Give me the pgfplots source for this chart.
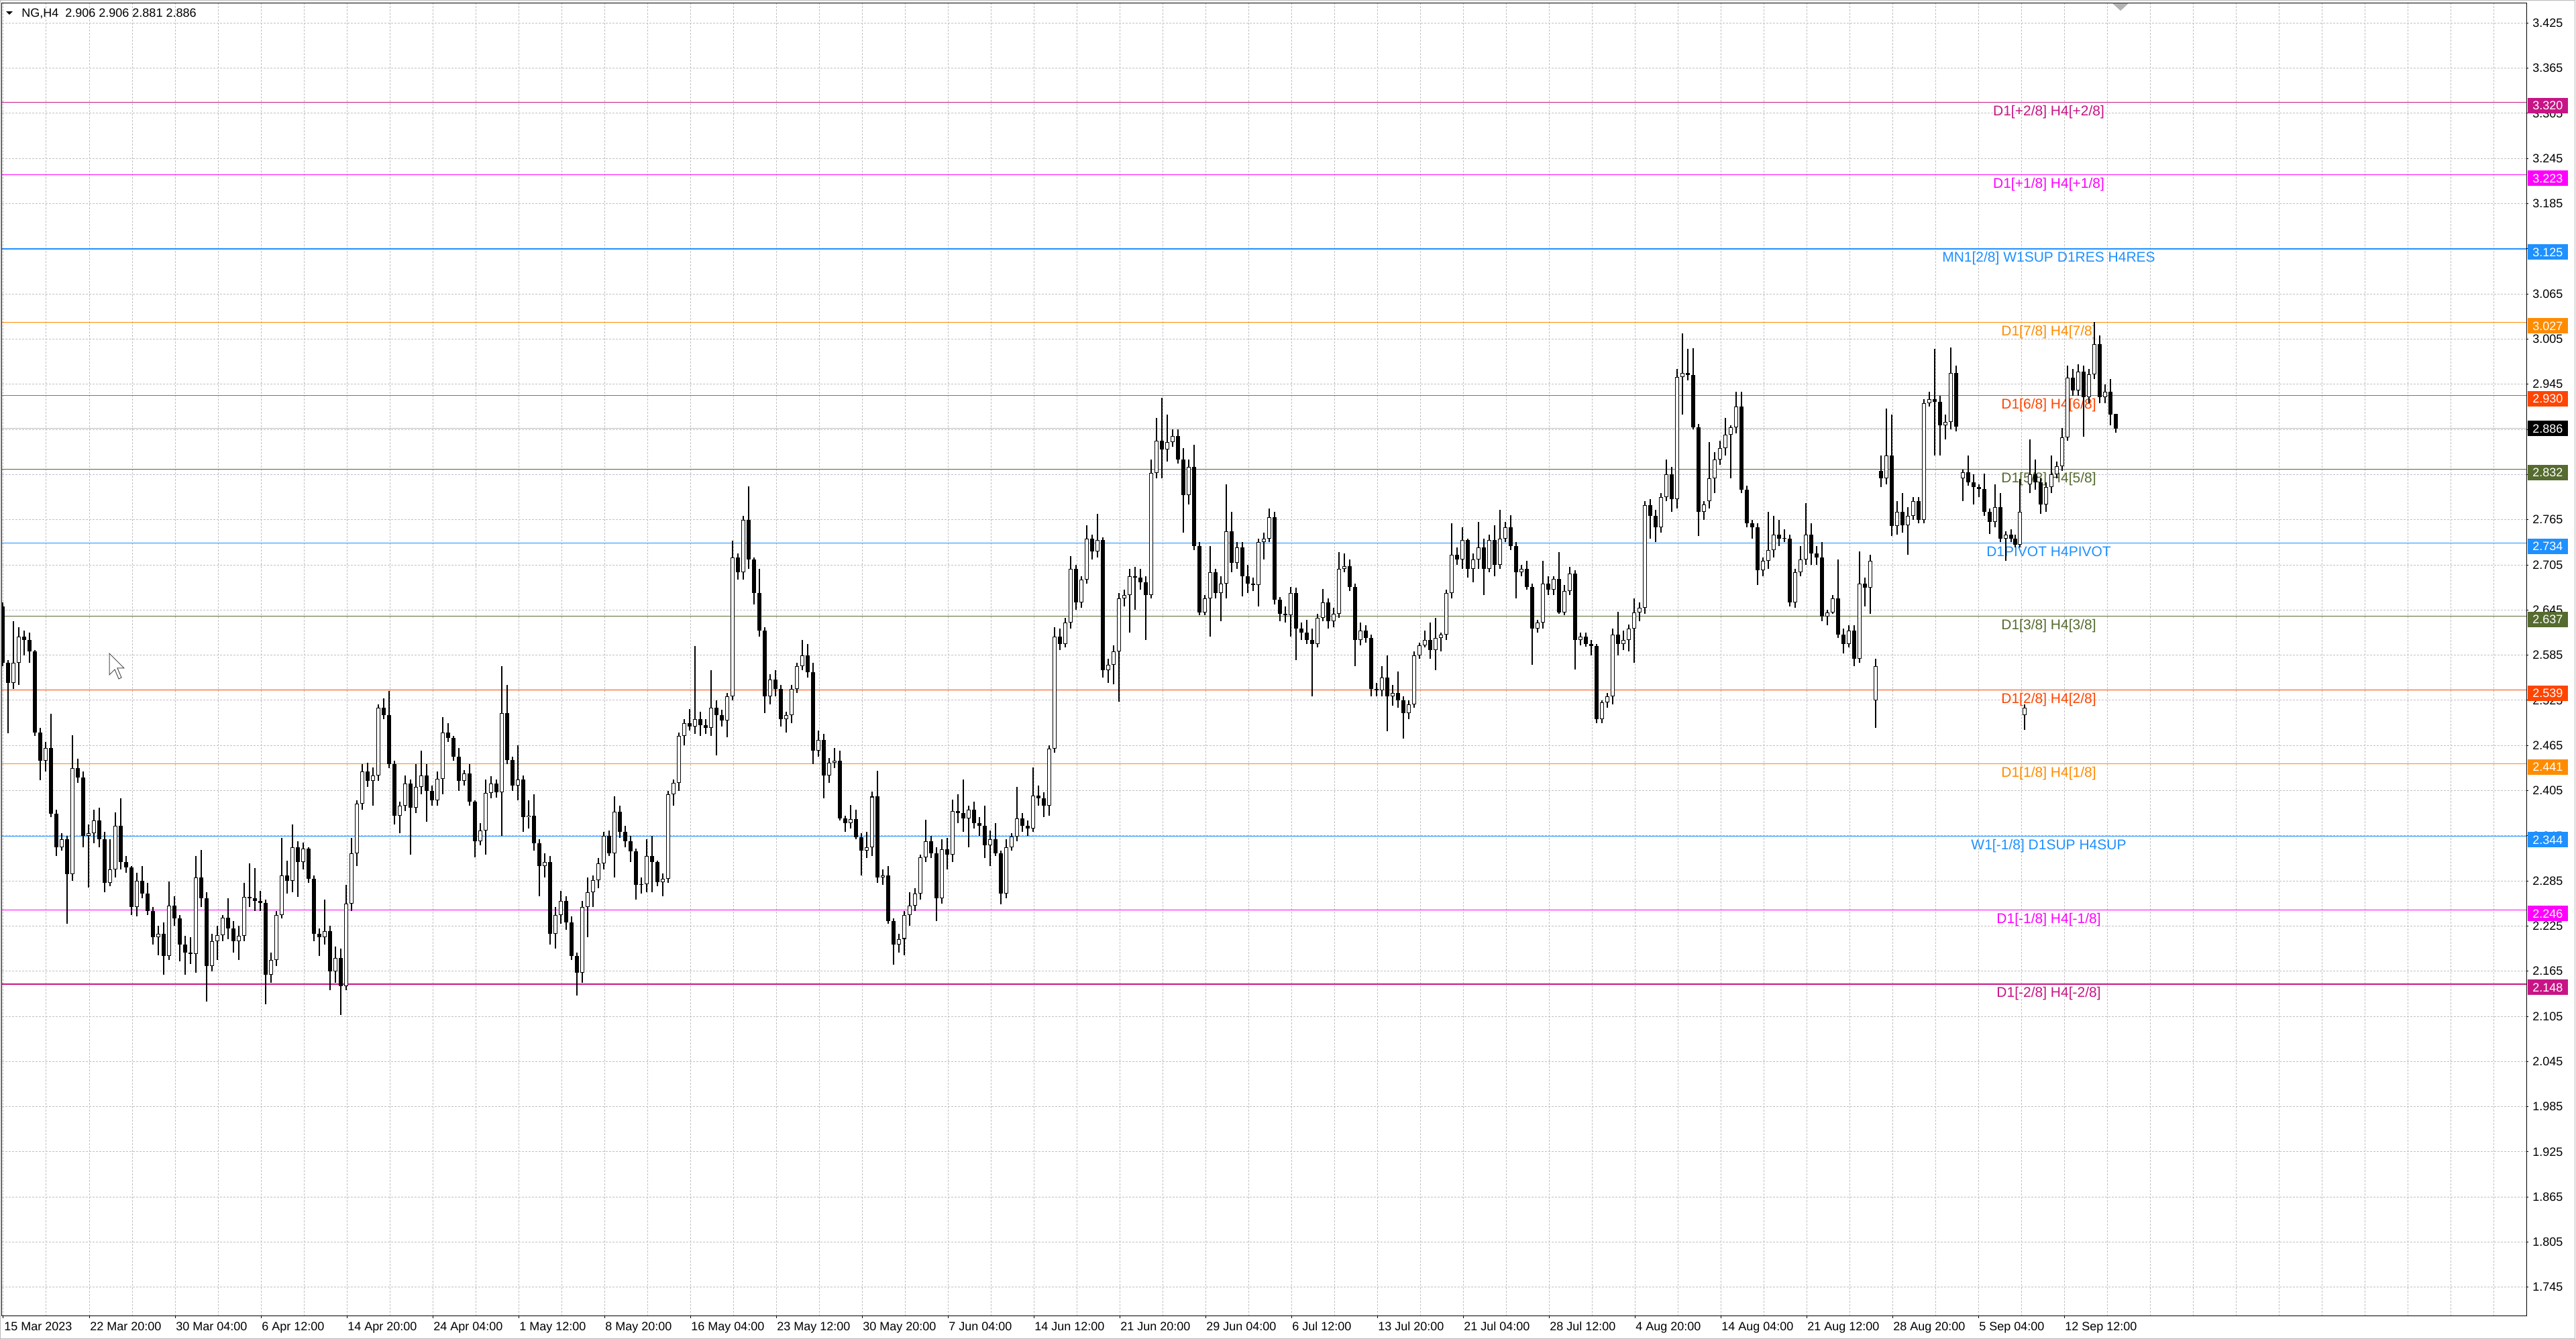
\documentclass[border=0pt]{standalone}
\usepackage{fontspec}
\setmainfont{Liberation Sans}
\usepackage{pgfplots}
\usepackage{pgfplotstable}
\pgfplotsset{compat=1.18}

\definecolor{mvred}{HTML}{C71585}
\definecolor{mag}{HTML}{FF00FF}
\definecolor{dblue}{HTML}{1E90FF}
\definecolor{dorange}{HTML}{FF8C00}
\definecolor{ored}{HTML}{FF4500}
\definecolor{olive}{HTML}{556B2F}
\definecolor{gridgray}{HTML}{C0C0C0}

\newcommand{\lab}{\fontsize{9}{10}\selectfont}
\newcommand{\lvl}{\fontsize{10.5}{12}\selectfont}

% NG H4 candles, two bars per candle, x = screen position
\pgfplotstableread{
x o h l c
4 2.650 2.655 2.570 2.575
12 2.575 2.578 2.481 2.548
20 2.548 2.630 2.540 2.575
28 2.575 2.622 2.545 2.610
36 2.610 2.618 2.585 2.605
44 2.605 2.615 2.575 2.590
52 2.590 2.592 2.478 2.482
60 2.482 2.488 2.419 2.445
68 2.445 2.470 2.430 2.462
76 2.462 2.507 2.370 2.374
84 2.374 2.380 2.318 2.330
92 2.330 2.348 2.325 2.340
100 2.340 2.345 2.228 2.294
108 2.294 2.479 2.285 2.435
116 2.435 2.447 2.415 2.422
124 2.422 2.430 2.330 2.345
132 2.345 2.360 2.276 2.348
140 2.348 2.380 2.335 2.365
148 2.365 2.382 2.330 2.340
156 2.340 2.350 2.270 2.282
164 2.282 2.340 2.278 2.300
172 2.300 2.376 2.290 2.358
180 2.358 2.395 2.300 2.310
188 2.310 2.318 2.296 2.303
196 2.303 2.305 2.240 2.250
204 2.250 2.296 2.238 2.285
212 2.285 2.305 2.262 2.268
220 2.268 2.282 2.240 2.245
228 2.245 2.250 2.200 2.210
236 2.210 2.225 2.186 2.215
244 2.215 2.230 2.160 2.185
252 2.185 2.284 2.180 2.252
260 2.252 2.265 2.225 2.235
268 2.235 2.240 2.178 2.200
276 2.200 2.212 2.160 2.190
284 2.190 2.210 2.175 2.188
292 2.188 2.318 2.163 2.290
300 2.290 2.326 2.250 2.262
308 2.262 2.270 2.125 2.172
316 2.172 2.215 2.165 2.205
324 2.205 2.225 2.180 2.213
332 2.213 2.240 2.205 2.236
340 2.236 2.262 2.208 2.222
348 2.222 2.232 2.190 2.205
356 2.205 2.225 2.180 2.212
364 2.212 2.282 2.205 2.264
372 2.264 2.308 2.250 2.262
380 2.262 2.302 2.245 2.258
388 2.258 2.272 2.245 2.256
396 2.256 2.260 2.121 2.160
404 2.160 2.190 2.150 2.180
412 2.180 2.245 2.172 2.240
420 2.240 2.342 2.235 2.292
428 2.292 2.312 2.268 2.285
436 2.285 2.360 2.270 2.330
444 2.330 2.338 2.264 2.310
452 2.310 2.336 2.300 2.328
460 2.328 2.330 2.282 2.288
468 2.288 2.292 2.205 2.215
476 2.215 2.222 2.185 2.210
484 2.210 2.260 2.200 2.218
492 2.218 2.225 2.140 2.165
500 2.165 2.198 2.150 2.183
508 2.183 2.195 2.107 2.145
516 2.145 2.280 2.140 2.255
524 2.255 2.342 2.245 2.322
532 2.322 2.392 2.305 2.388
540 2.388 2.440 2.380 2.430
548 2.430 2.442 2.410 2.418
556 2.418 2.436 2.385 2.425
564 2.425 2.520 2.418 2.515
572 2.515 2.528 2.500 2.505
580 2.505 2.537 2.435 2.440
588 2.440 2.445 2.360 2.372
596 2.372 2.390 2.348 2.385
604 2.385 2.425 2.378 2.414
612 2.414 2.420 2.320 2.382
620 2.382 2.440 2.375 2.410
628 2.410 2.458 2.400 2.425
636 2.425 2.440 2.364 2.405
644 2.405 2.412 2.385 2.392
652 2.392 2.430 2.385 2.421
660 2.421 2.503 2.400 2.482
668 2.482 2.495 2.470 2.475
676 2.475 2.478 2.445 2.450
684 2.450 2.462 2.405 2.418
692 2.418 2.432 2.412 2.428
700 2.428 2.440 2.385 2.390
708 2.390 2.392 2.316 2.338
716 2.338 2.362 2.332 2.352
724 2.352 2.420 2.320 2.402
732 2.402 2.424 2.395 2.414
740 2.414 2.420 2.396 2.403
748 2.403 2.570 2.345 2.508
756 2.508 2.545 2.440 2.446
764 2.446 2.450 2.405 2.412
772 2.412 2.465 2.392 2.420
780 2.420 2.425 2.350 2.370
788 2.370 2.392 2.355 2.372
796 2.372 2.400 2.325 2.335
804 2.335 2.340 2.265 2.305
812 2.305 2.322 2.290 2.310
820 2.310 2.318 2.200 2.215
828 2.215 2.250 2.195 2.240
836 2.240 2.272 2.228 2.258
844 2.258 2.265 2.220 2.230
852 2.230 2.238 2.180 2.185
860 2.185 2.190 2.133 2.163
868 2.163 2.258 2.150 2.250
876 2.250 2.290 2.210 2.270
884 2.270 2.292 2.250 2.286
892 2.286 2.315 2.275 2.308
900 2.308 2.350 2.300 2.345
908 2.345 2.352 2.318 2.322
916 2.322 2.397 2.290 2.377
924 2.377 2.385 2.342 2.350
932 2.350 2.358 2.330 2.338
940 2.338 2.345 2.310 2.324
948 2.324 2.328 2.260 2.280
956 2.280 2.290 2.268 2.281
964 2.281 2.340 2.270 2.318
972 2.318 2.345 2.270 2.310
980 2.310 2.312 2.278 2.283
988 2.283 2.295 2.265 2.288
996 2.288 2.405 2.282 2.400
1004 2.400 2.420 2.385 2.415
1012 2.415 2.482 2.405 2.478
1020 2.478 2.500 2.465 2.495
1028 2.495 2.513 2.485 2.490
1036 2.490 2.597 2.480 2.500
1044 2.500 2.510 2.478 2.492
1052 2.492 2.500 2.480 2.488
1060 2.488 2.565 2.478 2.515
1068 2.515 2.525 2.452 2.505
1076 2.505 2.512 2.490 2.498
1084 2.498 2.535 2.476 2.530
1092 2.530 2.737 2.525 2.715
1100 2.715 2.720 2.685 2.695
1108 2.695 2.770 2.685 2.765
1116 2.765 2.809 2.700 2.712
1124 2.712 2.715 2.652 2.668
1132 2.668 2.700 2.610 2.618
1140 2.618 2.622 2.508 2.530
1148 2.530 2.560 2.520 2.553
1156 2.553 2.565 2.530 2.540
1164 2.540 2.545 2.490 2.500
1172 2.500 2.510 2.482 2.505
1180 2.505 2.545 2.495 2.540
1188 2.540 2.575 2.535 2.570
1196 2.570 2.605 2.565 2.585
1204 2.585 2.600 2.555 2.562
1212 2.562 2.575 2.440 2.458
1220 2.458 2.485 2.450 2.472
1228 2.472 2.480 2.395 2.425
1236 2.425 2.448 2.415 2.442
1244 2.442 2.462 2.435 2.445
1252 2.445 2.458 2.365 2.368
1260 2.368 2.372 2.350 2.362
1268 2.362 2.386 2.355 2.367
1276 2.367 2.380 2.340 2.343
1284 2.343 2.348 2.292 2.325
1292 2.325 2.350 2.315 2.330
1300 2.330 2.404 2.318 2.397
1308 2.397 2.431 2.282 2.290
1316 2.290 2.300 2.280 2.292
1324 2.292 2.305 2.228 2.232
1332 2.232 2.235 2.174 2.200
1340 2.200 2.215 2.190 2.208
1348 2.208 2.245 2.186 2.240
1356 2.240 2.270 2.225 2.252
1364 2.252 2.275 2.245 2.268
1372 2.268 2.320 2.260 2.316
1380 2.316 2.366 2.310 2.338
1388 2.338 2.345 2.315 2.322
1396 2.322 2.330 2.232 2.262
1404 2.262 2.340 2.255 2.327
1412 2.327 2.342 2.300 2.320
1420 2.320 2.393 2.310 2.378
1428 2.378 2.400 2.362 2.375
1436 2.375 2.420 2.350 2.368
1444 2.368 2.385 2.330 2.380
1452 2.380 2.390 2.355 2.362
1460 2.362 2.370 2.345 2.358
1468 2.358 2.385 2.315 2.332
1476 2.332 2.352 2.305 2.340
1484 2.340 2.362 2.318 2.322
1492 2.322 2.325 2.254 2.268
1500 2.268 2.340 2.262 2.330
1508 2.330 2.348 2.325 2.344
1516 2.344 2.410 2.338 2.368
1524 2.368 2.375 2.350 2.358
1532 2.358 2.365 2.345 2.355
1540 2.355 2.436 2.350 2.398
1548 2.398 2.412 2.385 2.395
1556 2.395 2.403 2.370 2.385
1564 2.385 2.465 2.372 2.461
1572 2.461 2.622 2.455 2.610
1580 2.610 2.620 2.592 2.600
1588 2.600 2.635 2.595 2.628
1596 2.628 2.717 2.620 2.700
1604 2.700 2.705 2.645 2.655
1612 2.655 2.690 2.648 2.685
1620 2.685 2.758 2.680 2.740
1628 2.740 2.745 2.712 2.723
1636 2.723 2.773 2.715 2.738
1644 2.738 2.742 2.555 2.565
1652 2.565 2.580 2.548 2.572
1660 2.572 2.598 2.546 2.590
1668 2.590 2.668 2.523 2.660
1676 2.660 2.672 2.650 2.665
1684 2.665 2.700 2.615 2.690
1692 2.690 2.702 2.645 2.688
1700 2.688 2.700 2.672 2.682
1708 2.682 2.690 2.605 2.665
1716 2.665 2.845 2.660 2.827
1724 2.827 2.900 2.820 2.870
1732 2.870 2.927 2.820 2.858
1740 2.858 2.905 2.842 2.868
1748 2.868 2.885 2.862 2.876
1756 2.876 2.885 2.840 2.845
1764 2.845 2.860 2.748 2.798
1772 2.798 2.845 2.785 2.835
1780 2.835 2.865 2.725 2.730
1788 2.730 2.735 2.638 2.642
1796 2.642 2.665 2.638 2.660
1804 2.660 2.730 2.610 2.695
1812 2.695 2.700 2.660 2.668
1820 2.668 2.690 2.630 2.680
1828 2.680 2.812 2.660 2.750
1836 2.750 2.775 2.695 2.708
1844 2.708 2.735 2.700 2.728
1852 2.728 2.735 2.663 2.690
1860 2.690 2.705 2.668 2.680
1868 2.680 2.688 2.670 2.678
1876 2.678 2.740 2.650 2.735
1884 2.735 2.748 2.712 2.740
1892 2.740 2.780 2.735 2.768
1900 2.768 2.775 2.652 2.659
1908 2.659 2.662 2.630 2.640
1916 2.640 2.650 2.628 2.638
1924 2.638 2.676 2.610 2.668
1932 2.668 2.675 2.578 2.620
1940 2.620 2.628 2.605 2.615
1948 2.615 2.632 2.600 2.605
1956 2.605 2.620 2.530 2.600
1964 2.600 2.640 2.595 2.635
1972 2.635 2.673 2.630 2.655
1980 2.655 2.660 2.620 2.630
1988 2.630 2.648 2.622 2.640
1996 2.640 2.722 2.635 2.700
2004 2.700 2.720 2.695 2.703
2012 2.703 2.712 2.670 2.676
2020 2.676 2.680 2.570 2.605
2028 2.605 2.628 2.598 2.618
2036 2.618 2.625 2.602 2.608
2044 2.608 2.612 2.530 2.540
2052 2.540 2.548 2.530 2.538
2060 2.538 2.570 2.530 2.555
2068 2.555 2.585 2.484 2.530
2076 2.530 2.545 2.518 2.535
2084 2.535 2.563 2.515 2.525
2092 2.525 2.530 2.474 2.508
2100 2.508 2.525 2.500 2.520
2108 2.520 2.590 2.515 2.585
2116 2.585 2.602 2.580 2.598
2124 2.598 2.618 2.595 2.605
2132 2.605 2.628 2.580 2.592
2140 2.592 2.635 2.565 2.608
2148 2.608 2.615 2.590 2.612
2156 2.612 2.672 2.605 2.668
2164 2.668 2.760 2.660 2.718
2172 2.718 2.728 2.705 2.712
2180 2.712 2.755 2.700 2.738
2188 2.738 2.740 2.688 2.700
2196 2.700 2.720 2.682 2.712
2204 2.712 2.762 2.700 2.728
2212 2.728 2.740 2.665 2.700
2220 2.700 2.745 2.695 2.738
2228 2.738 2.758 2.690 2.705
2236 2.705 2.778 2.700 2.740
2244 2.740 2.762 2.735 2.755
2252 2.755 2.771 2.725 2.730
2260 2.730 2.735 2.660 2.695
2268 2.695 2.705 2.690 2.700
2276 2.700 2.710 2.672 2.676
2284 2.676 2.680 2.572 2.620
2292 2.620 2.632 2.615 2.628
2300 2.628 2.710 2.620 2.680
2308 2.680 2.690 2.665 2.672
2316 2.672 2.690 2.665 2.686
2324 2.686 2.722 2.640 2.642
2332 2.642 2.678 2.638 2.670
2340 2.670 2.702 2.665 2.693
2348 2.693 2.698 2.566 2.605
2356 2.605 2.615 2.598 2.610
2364 2.610 2.615 2.596 2.600
2372 2.600 2.605 2.585 2.597
2380 2.597 2.600 2.495 2.500
2388 2.500 2.525 2.495 2.522
2396 2.522 2.535 2.515 2.530
2404 2.530 2.620 2.520 2.612
2412 2.612 2.643 2.585 2.600
2420 2.600 2.618 2.592 2.605
2428 2.605 2.626 2.590 2.620
2436 2.620 2.660 2.575 2.642
2444 2.642 2.655 2.630 2.648
2452 2.648 2.790 2.640 2.784
2460 2.784 2.792 2.740 2.770
2468 2.770 2.778 2.735 2.755
2476 2.755 2.800 2.748 2.795
2484 2.795 2.845 2.790 2.825
2492 2.825 2.835 2.775 2.792
2500 2.792 2.965 2.780 2.955
2508 2.955 3.013 2.905 2.960
2516 2.960 2.992 2.950 2.957
2524 2.957 2.993 2.885 2.888
2532 2.888 2.892 2.743 2.775
2540 2.775 2.790 2.765 2.785
2548 2.790 2.868 2.780 2.820
2556 2.820 2.855 2.800 2.845
2564 2.845 2.870 2.838 2.860
2572 2.860 2.900 2.850 2.878
2580 2.878 2.890 2.820 2.888
2588 2.888 2.935 2.880 2.915
2596 2.915 2.935 2.800 2.805
2604 2.805 2.810 2.755 2.760
2612 2.760 2.765 2.740 2.755
2620 2.755 2.760 2.678 2.698
2628 2.698 2.715 2.690 2.710
2636 2.710 2.775 2.700 2.725
2644 2.725 2.770 2.715 2.745
2652 2.745 2.765 2.730 2.740
2660 2.740 2.752 2.735 2.740
2668 2.740 2.745 2.650 2.655
2676 2.655 2.700 2.648 2.695
2684 2.695 2.730 2.690 2.712
2692 2.712 2.787 2.705 2.745
2700 2.745 2.760 2.705 2.720
2708 2.720 2.730 2.705 2.715
2716 2.715 2.735 2.630 2.636
2724 2.636 2.645 2.625 2.642
2732 2.642 2.665 2.640 2.660
2740 2.660 2.712 2.608 2.612
2748 2.612 2.620 2.587 2.600
2756 2.600 2.625 2.595 2.618
2764 2.618 2.625 2.570 2.580
2772 2.580 2.723 2.575 2.680
2780 2.680 2.688 2.650 2.675
2788 2.675 2.718 2.640 2.710
2796 2.525 2.580 2.488 2.570
2804 2.830 2.850 2.808 2.820
2812 2.820 2.913 2.812 2.850
2820 2.850 2.905 2.743 2.757
2828 2.757 2.790 2.745 2.775
2836 2.775 2.800 2.748 2.758
2844 2.758 2.782 2.718 2.770
2852 2.770 2.795 2.765 2.790
2860 2.790 2.795 2.760 2.765
2868 2.765 2.925 2.760 2.920
2876 2.920 2.935 2.915 2.925
2884 2.925 2.992 2.850 2.922
2892 2.922 2.930 2.850 2.890
2900 2.890 2.905 2.872 2.895
2908 2.895 2.994 2.885 2.960
2916 2.960 2.970 2.882 2.889
2926 2.820 2.832 2.790 2.828
2934 2.828 2.850 2.810 2.815
2942 2.815 2.825 2.785 2.808
2950 2.808 2.812 2.795 2.806
2958 2.806 2.826 2.770 2.775
2966 2.775 2.780 2.746 2.762
2974 2.762 2.812 2.755 2.782
2982 2.782 2.800 2.735 2.740
2990 2.740 2.750 2.710 2.745
2998 2.745 2.752 2.735 2.740
3004 2.740 2.745 2.728 2.732
3011 2.732 2.819 2.728 2.775
3018 2.505 2.520 2.486 2.515
3026 2.812 2.872 2.800 2.825
3034 2.825 2.845 2.805 2.815
3042 2.815 2.820 2.773 2.785
3050 2.785 2.815 2.775 2.808
3058 2.808 2.850 2.800 2.825
3066 2.825 2.842 2.820 2.836
3074 2.836 2.887 2.830 2.874
3082 2.874 2.970 2.870 2.954
3090 2.954 2.965 2.930 2.937
3098 2.937 2.972 2.930 2.962
3106 2.962 2.970 2.875 2.928
3114 2.928 2.965 2.920 2.958
3122 2.958 3.028 2.952 2.998
3130 2.998 3.010 2.920 2.928
3138 2.928 2.945 2.920 2.935
3146 2.935 2.952 2.890 2.905
3154 2.906 2.906 2.881 2.886
}\candles

% price box: value, colour, downward offset of the box
\newcommand{\lvlbox}[3]{%
  \pgfmathsetmacro{\yy}{980.8+(#1-3.425)*560.85-#3}%
  \fill[#2] (1884pt,\yy pt-5.75pt) rectangle (1914pt,\yy pt+5.75pt);
  \node[anchor=west, inner sep=0pt, text=white, font=\lab] at (1887.5pt,\yy pt) {#1};
}

\pgfplotsset{candle/.style={draw=none, mark=none,
  error bars/.cd, y dir=plus, y explicit, error mark=none}}

\begin{document}
\begin{tikzpicture}
\fill[white] (0,0) rectangle (1920pt,998pt);
\draw[gray!55, line width=0.5pt] (0.25pt,0.25pt) rectangle (1919pt,997.75pt);

\begin{axis}[
  at={(1.5pt,17pt)}, anchor=south west,
  scale only axis, width=1881.5pt, height=978.75pt,
  xmin=3, xmax=3766, ymin=1.70654, ymax=3.45166,
  xtick={5,133,261,389,517,645,773,901,1029,1157,1285,1413,1541,1669,1797,1925,2053,2181,2309,2437,2565,2693,2821,2949,3077},
  minor xtick={69,197,325,453,581,709,837,965,1093,1221,1349,1477,1605,1733,1861,1989,2117,2245,2373,2501,2629,2757,2885,3013,3141,3205,3269,3333,3397,3461,3525,3589,3653,3717},
  ytick={1.745,1.805,1.865,1.925,1.985,2.045,2.105,2.165,2.225,2.285,2.345,2.405,2.465,2.525,2.585,2.645,2.705,2.765,2.825,2.885,2.945,3.005,3.065,3.125,3.185,3.245,3.305,3.365,3.425},
  xticklabels={}, yticklabels={},
  xtick pos=left, ytick pos=right,
  tick align=outside, major tick length=1.5pt, minor tick length=0pt,
  major tick style={black, line width=0.5pt},
  grid=both,
  major grid style={gridgray, line width=0.5pt, dash pattern=on 1.5pt off 1pt},
  minor grid style={gridgray, line width=0.5pt, dash pattern=on 1.5pt off 1pt},
  axis line style={black, line width=0.5pt},
]
% levels
\addplot[mvred, line width=0.5pt] coordinates {(3,3.320) (3766,3.320)};
\addplot[mag, line width=0.5pt] coordinates {(3,3.223) (3766,3.223)};
\addplot[dblue, line width=0.9pt] coordinates {(3,3.125) (3766,3.125)};
\addplot[dorange, line width=0.5pt] coordinates {(3,3.027) (3766,3.027)};
\addplot[ored, line width=0.5pt] coordinates {(3,2.930) (3766,2.930)};
\addplot[gridgray, line width=0.5pt] coordinates {(3,2.886) (3766,2.886)};
\addplot[olive, line width=0.5pt] coordinates {(3,2.832) (3766,2.832)};
\addplot[dblue, line width=0.5pt] coordinates {(3,2.734) (3766,2.734)};
\addplot[olive, line width=0.5pt] coordinates {(3,2.637) (3766,2.637)};
\addplot[ored, line width=0.5pt] coordinates {(3,2.539) (3766,2.539)};
\addplot[dorange, line width=0.5pt] coordinates {(3,2.441) (3766,2.441)};
\addplot[dblue, line width=0.5pt] coordinates {(3,2.344) (3766,2.344)};
\addplot[mag, line width=0.5pt] coordinates {(3,2.246) (3766,2.246)};
\addplot[mvred, line width=0.8pt] coordinates {(3,2.148) (3766,2.148)};

\node[anchor=base, yshift=-10pt, text=mvred, font=\lvl] at (axis cs:3054,3.320) {D1[+2/8] H4[+2/8]};
\node[anchor=base, yshift=-10pt, text=mag, font=\lvl] at (axis cs:3054,3.223) {D1[+1/8] H4[+1/8]};
\node[anchor=base, yshift=-10pt, text=dblue, font=\lvl] at (axis cs:3054,3.125) {MN1[2/8] W1SUP D1RES H4RES};
\node[anchor=base, yshift=-10pt, text=dorange, font=\lvl] at (axis cs:3054,3.027) {D1[7/8] H4[7/8]};
\node[anchor=base, yshift=-10pt, text=ored, font=\lvl] at (axis cs:3054,2.930) {D1[6/8] H4[6/8]};
\node[anchor=base, yshift=-10pt, text=olive, font=\lvl] at (axis cs:3054,2.832) {D1[5/8] H4[5/8]};
\node[anchor=base, yshift=-10pt, text=dblue, font=\lvl] at (axis cs:3054,2.734) {D1PIVOT H4PIVOT};
\node[anchor=base, yshift=-10pt, text=olive, font=\lvl] at (axis cs:3054,2.637) {D1[3/8] H4[3/8]};
\node[anchor=base, yshift=-10pt, text=ored, font=\lvl] at (axis cs:3054,2.539) {D1[2/8] H4[2/8]};
\node[anchor=base, yshift=-10pt, text=dorange, font=\lvl] at (axis cs:3054,2.441) {D1[1/8] H4[1/8]};
\node[anchor=base, yshift=-10pt, text=dblue, font=\lvl] at (axis cs:3054,2.344) {W1[-1/8] D1SUP H4SUP};
\node[anchor=base, yshift=-10pt, text=mag, font=\lvl] at (axis cs:3054,2.246) {D1[-1/8] H4[-1/8]};
\node[anchor=base, yshift=-10pt, text=mvred, font=\lvl] at (axis cs:3054,2.148) {D1[-2/8] H4[-2/8]};

% candles: wicks, bodies, hollow bull bodies
\addplot[candle, error bar style={draw=black, line width=0.6pt}]
  table[x=x, y=l, y error plus expr={\thisrow{h}-\thisrow{l}}] {\candles};
\addplot[candle, error bar style={draw=black, line width=2.6pt}]
  table[x=x, y expr={min(\thisrow{o},\thisrow{c})}, y error plus expr={max(abs(\thisrow{c}-\thisrow{o}),0.0009)}] {\candles};
\addplot[candle, error bar style={draw=white, line width=1.6pt}]
  table[x=x, y expr={\thisrow{o}+0.0009}, y error plus expr={max(\thisrow{c}-\thisrow{o}-0.0018,0)}] {\candles};
\end{axis}

% y tick labels (the ones hidden behind price boxes are left out)
\foreach \v in {1.745,1.805,1.865,1.925,1.985,2.045,2.105,2.165,2.225,2.285,2.345,2.405,2.465,2.525,2.585,2.645,2.705,2.765,2.945,3.005,3.065,3.185,3.245,3.305,3.365,3.425} {
  \pgfmathsetmacro{\yy}{980.8+(\v-3.425)*560.85}
  \node[anchor=west, inner sep=0pt, font=\lab] at (1887.5pt,\yy pt) {\v};
}
% x tick labels
\foreach \x/\t in {5/15 Mar 2023,133/22 Mar 20:00,261/30 Mar 04:00,389/6 Apr 12:00,517/14 Apr 20:00,645/24 Apr 04:00,773/1 May 12:00,901/8 May 20:00,1029/16 May 04:00,1157/23 May 12:00,1285/30 May 20:00,1413/7 Jun 04:00,1541/14 Jun 12:00,1669/21 Jun 20:00,1797/29 Jun 04:00,1925/6 Jul 12:00,2053/13 Jul 20:00,2181/21 Jul 04:00,2309/28 Jul 12:00,2437/4 Aug 20:00,2565/14 Aug 04:00,2693/21 Aug 12:00,2821/28 Aug 20:00,2949/5 Sep 04:00,3077/12 Sep 12:00} {
  \node[anchor=base west, inner sep=0pt, font=\lab] at ({(\x+1)*0.5pt},6pt) {\t};
}

% right-hand price boxes
\lvlbox{3.320}{mvred}{2.5}
\lvlbox{3.223}{mag}{2.5}
\lvlbox{3.125}{dblue}{2.5}
\lvlbox{3.027}{dorange}{2.5}
\lvlbox{2.930}{ored}{2.5}
\lvlbox{2.886}{black}{0}
\lvlbox{2.832}{olive}{2.5}
\lvlbox{2.734}{dblue}{2.5}
\lvlbox{2.637}{olive}{2.5}
\lvlbox{2.539}{ored}{2.5}
\lvlbox{2.441}{dorange}{2.5}
\lvlbox{2.344}{dblue}{2.5}
\lvlbox{2.246}{mag}{2.5}
\lvlbox{2.148}{mvred}{2.5}

% header
\fill[black] (4.5pt,989.5pt) -- (9.5pt,989.5pt) -- (7pt,987pt) -- cycle;
\node[anchor=base west, inner sep=0pt, font=\lab] at (16pt,985pt) {NG,H4\ \ 2.906 2.906 2.881 2.886};
% shift marker
\fill[gray!60] (1574.5pt,995.5pt) -- (1586.5pt,995.5pt) -- (1580.5pt,990pt) -- cycle;
% mouse cursor
\begin{scope}[shift={(81.5pt,511pt)}, x=1pt, y=1pt]
\filldraw[fill=white, draw=black!70, line width=0.5pt] (0,0) -- (0,-16) -- (4,-12) -- (7,-19) -- (9,-18) -- (6,-11) -- (11,-11) -- cycle;
\end{scope}

\pgfresetboundingbox
\path[use as bounding box] (0,0) rectangle (1920pt,998pt);
\end{tikzpicture}
\end{document}
